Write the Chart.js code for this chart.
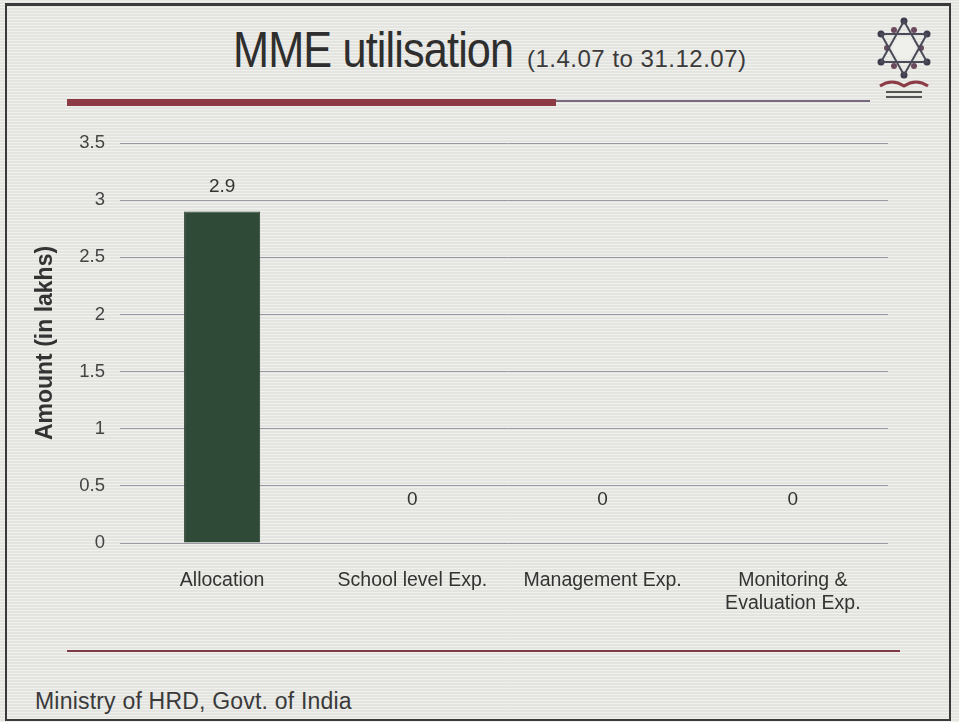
<!DOCTYPE html>
<html>
<head>
<meta charset="utf-8">
<script src="https://cdn.jsdelivr.net/npm/chart.js@4"></script>
<style>
  html, body { margin: 0; padding: 0; }
  body {
    width: 959px; height: 722px; overflow: hidden; position: relative;
    background: #e8e8e4;
    background-image: repeating-linear-gradient(0deg, rgba(255,255,255,0.35) 0px, rgba(255,255,255,0.35) 1px, rgba(0,0,0,0.02) 1px, rgba(0,0,0,0.02) 3px);
    font-family: "Liberation Sans", Arial, sans-serif;
  }
  .frame { position: absolute; left: 5px; top: 3px; width: 942px; height: 713px; border: 2px solid #3a3a3a; border-top-width: 3px; }
  .title { position: absolute; left: 233px; top: 25px; white-space: nowrap; color: #2e2e2e; line-height: 1; }
  .title .big { display: inline-block; font-size: 50px; letter-spacing: -1px; transform: scaleX(0.865); transform-origin: left; }
  .small { position: absolute; left: 527px; top: 47px; font-size: 24px; line-height: 1; letter-spacing: 0.5px; color: #3a3a3a; white-space: nowrap; }
  .redbar { position: absolute; left: 67px; top: 99px; width: 489px; height: 7px; background: #8c3a44; }
  .thin { position: absolute; left: 556px; top: 100px; width: 314px; height: 2px; background: #7a6a80; }
  .bottomline { position: absolute; left: 67px; top: 650px; width: 833px; height: 2px; background: #7e3a44; }
  .footer { position: absolute; left: 35px; top: 688px; font-size: 23px; letter-spacing: 0.2px; color: #3a3a3a; }
  #wrap { position: absolute; left: 0; top: 0; width: 959px; height: 722px; }
  .logo { position: absolute; left: 872px; top: 16px; }
</style>
</head>
<body>
<div class="frame"></div>
<div class="title"><span class="big">MME utilisation</span></div>
<div class="small">(1.4.07 to 31.12.07)</div>
<div class="redbar"></div>
<div class="thin"></div>
<svg class="logo" width="64" height="86" viewBox="0 0 64 86">
  <g fill="#3c3c4c">
    <circle cx="32" cy="5" r="3.5"/><circle cx="32" cy="59" r="3.5"/>
    <circle cx="9" cy="18" r="3.5"/><circle cx="55" cy="18" r="3.5"/>
    <circle cx="9" cy="46" r="3.5"/><circle cx="55" cy="46" r="3.5"/>
  </g>
  <g fill="#6a4a5e">
    <circle cx="22" cy="14" r="3"/><circle cx="42" cy="14" r="3"/>
    <circle cx="15" cy="32" r="3"/><circle cx="49" cy="32" r="3"/>
    <circle cx="22" cy="50" r="3"/><circle cx="42" cy="50" r="3"/>
  </g>
  <polygon points="32,5 55,46 9,46" fill="none" stroke="#4a4a58" stroke-width="2"/>
  <polygon points="32,59 55,18 9,18" fill="none" stroke="#4a4a58" stroke-width="2"/>
  <circle cx="32" cy="32" r="11" fill="#efefeb"/>
  <path d="M8 70 Q20 62 32 70 Q44 62 56 70" fill="none" stroke="#8c3a44" stroke-width="3"/>
  <rect x="14" y="75" width="36" height="2" fill="#555"/><rect x="14" y="80" width="36" height="2" fill="#555"/>
</svg>
<div class="bottomline"></div>
<div class="footer">Ministry of HRD, Govt. of India</div>
<div id="wrap"><canvas id="chart"></canvas></div>
<script>
// data
const categories = ['Allocation', 'School level Exp.', 'Management Exp.', ['Monitoring &', 'Evaluation Exp.']];
const amounts = [2.9, 0, 0, 0];
const yTicks = [0, 0.5, 1, 1.5, 2, 2.5, 3, 3.5];

const fontFamily = '"Liberation Sans", Arial, sans-serif';

// value labels above each bar
const valueLabels = {
    id: 'valueLabels',
    afterDatasetsDraw(chart) {
        const ctx = chart.ctx;
        const meta = chart.getDatasetMeta(0);
        ctx.save();
        ctx.font = '19px ' + fontFamily;
        ctx.fillStyle = '#333';
        ctx.textAlign = 'center';
        ctx.textBaseline = 'middle';
        meta.data.forEach((bar, i) => {
            const offset = amounts[i] > 0 ? 25 : 43;
            ctx.fillText(String(amounts[i]), bar.x, bar.y - offset);
        });
        ctx.restore();
    }
};

const data = {
    labels: categories,
    datasets: [{
        data: amounts,
        backgroundColor: '#2f4a36',
        borderColor: '#2a3f2f',
        borderWidth: 1,
        barPercentage: 0.4,
        categoryPercentage: 1
    }]
};

const config = {
    type: 'bar',
    data,
    plugins: [valueLabels],
    options: {
        responsive: true,
        maintainAspectRatio: false,
        animation: false,
        layout: { padding: { top: 143, left: 28, right: 71, bottom: 0 } },
        plugins: { legend: { display: false }, tooltip: { enabled: false } },
        scales: {
            x: {
                grid: { display: false, drawTicks: false },
                border: { display: false },
                ticks: { color: '#333', padding: 26, maxRotation: 0, autoSkip: false, font: { family: fontFamily, size: 19.5 } },
                afterFit(scale) { scale.height = 179; }
            },
            y: {
                min: 0,
                max: 3.5,
                afterBuildTicks(scale) { scale.ticks = yTicks.map(v => ({ value: v })); },
                grid: { color: '#9a98a4', lineWidth: 1, drawTicks: true, tickLength: 7 },
                border: { display: false },
                ticks: { color: '#444', padding: 15, font: { family: fontFamily, size: 18.5 }, callback: v => String(v) },
                title: { display: true, text: 'Amount (in lakhs)', color: '#333', font: { family: fontFamily, size: 23, weight: 'bold' } },
                afterFit(scale) { scale.width = 99; }
            }
        }
    }
};

const chart = new Chart(document.getElementById('chart'), config);
</script>
</body>
</html>
